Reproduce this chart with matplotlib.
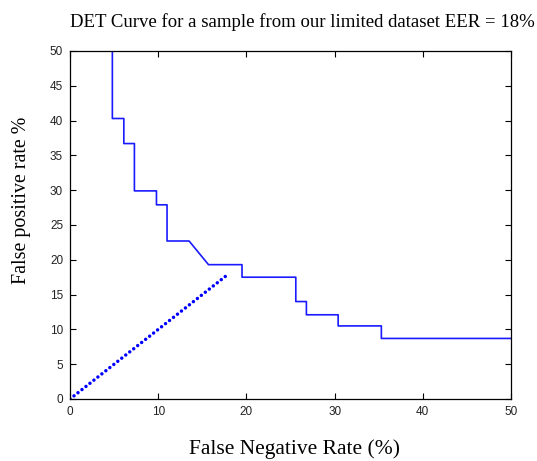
import matplotlib
matplotlib.use("Agg")
from matplotlib import pyplot as plt

# DET curve vertices (percent)
fnr = [4.8, 4.8, 6.1, 6.1, 7.3, 7.3, 9.8, 9.8, 11.0, 11.0, 13.5, 15.7,
       19.5, 19.5, 25.6, 25.6, 26.8, 26.8, 30.4, 30.4, 35.3, 35.3, 50.0]
fpr = [50.0, 40.3, 40.3, 36.7, 36.7, 29.9, 29.9, 27.9, 27.9, 22.7, 22.7, 19.3,
       19.3, 17.5, 17.5, 14.0, 14.0, 12.1, 12.1, 10.5, 10.5, 8.7, 8.7]

# equal error line
eer_x = [0, 18]
eer_y = [0, 18]

xticks = [0, 10, 20, 30, 40, 50]
yticks = [0, 5, 10, 15, 20, 25, 30, 35, 40, 45, 50]

serif = ['Liberation Serif', 'DejaVu Serif']
sans = ['Liberation Sans', 'DejaVu Sans']

fig = plt.figure(figsize=(5.37, 4.61), dpi=100)
ax = fig.add_axes([0.1304, 0.1345, 0.8212, 0.7549])

ax.plot(fnr, fpr, c='#1a1aff', lw=1.2)
ax.plot(eer_x, eer_y, c='#0000ff', lw=2.5, ls=(0, (0.01, 1.45)),
        dash_capstyle='round')

ax.set_xlim(0, 50)
ax.set_ylim(0, 50)
ax.set_xticks(xticks)
ax.set_yticks(yticks)
ax.tick_params(direction='in', top=True, right=True, length=4, width=0.8,
               labelsize=8.5, labelcolor='#222222')
ax.tick_params(axis='x', pad=5)
ax.tick_params(axis='y', pad=5)
for lab in ax.get_xticklabels() + ax.get_yticklabels():
    lab.set_family(sans)
for s in ax.spines.values():
    s.set_linewidth(0.9)

fig.text(0.5475, 0.016, 'False Negative Rate (%)', family=serif, fontsize=15.5,
         ha='center', va='baseline')
fig.text(0.04, 0.566, 'False positive rate %', family=serif, fontsize=14.4,
         ha='center', va='center', rotation=90)
fig.text(0.5633, 0.952, 'DET Curve for a sample from our limited dataset EER = 18%',
         family=serif, fontsize=13.5, ha='center', va='center')

fig.savefig('out.png', dpi=100)
